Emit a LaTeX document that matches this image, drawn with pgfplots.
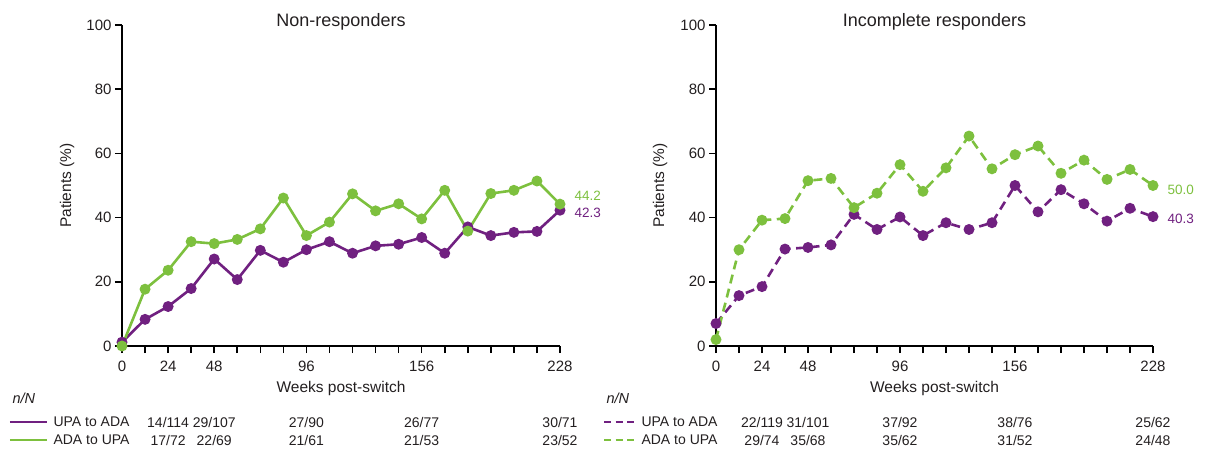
\documentclass[border=0pt]{standalone}
\usepackage{fontspec}
\setmainfont{Liberation Sans}
\usepackage{pgfplots}
\usepackage{pgfplotstable}
\pgfplotsset{compat=1.18}
\definecolor{upa}{RGB}{112,32,128}
\definecolor{ada}{RGB}{125,192,62}
\definecolor{txt}{RGB}{35,31,32}

\tikzset{
  tab/.style={font=\fontsize{14}{16}\selectfont, text=txt},
  endl/.style={font=\fontsize{13.5}{16}\selectfont, anchor=west},
  dsh/.style={dash pattern=on 9pt off 5.5pt},
  ttl/.style={font=\fontsize{18}{21}\selectfont, text=txt, anchor=center},
}
\pgfplotsset{
  panel/.style={
    scale only axis, width=438pt, height=321pt,
    xmin=0, xmax=228, ymin=0, ymax=100,
    axis x line=bottom, axis y line=left,
    axis line style={-, line width=1.8pt, black},
    tick align=outside, major tick length=7pt,
    every tick/.style={black, line width=1.6pt},
    xtick={0,12,...,228},
    xticklabels={0,,24,,48,,,,96,,,,,156,,,,,,228},
    ytick={0,20,...,100},
    /pgf/number format/assume math mode=true,
    tick label style={font=\fontsize{15}{18}\selectfont, text=txt},
    xticklabel style={yshift=-4pt},
    xlabel={Weeks post-switch}, ylabel={Patients (\%)},
    label style={font=\fontsize{15.5}{18}\selectfont, text=txt},
    xlabel style={at={(axis description cs:0.5,-0.131)}, anchor=center},
    clip=false,
  },
  upaS/.style={color=upa, line width=2.6pt, mark=*, mark size=4.1pt, mark options={solid}},
  adaS/.style={color=ada, line width=2.6pt, mark=*, mark size=4.1pt, mark options={solid}},
}

\pgfplotstableread{
wk upa ada
0 1.2 0.0
12 8.3 17.7
24 12.3 23.6
36 17.9 32.5
48 27.1 31.9
60 20.7 33.2
72 29.8 36.5
84 26.1 46.1
96 30.0 34.4
108 32.5 38.6
120 28.9 47.4
132 31.2 42.1
144 31.7 44.3
156 33.8 39.6
168 28.9 48.5
180 37.1 35.8
192 34.4 47.5
204 35.4 48.5
216 35.7 51.4
228 42.3 44.2
}\nonresp

\pgfplotstableread{
wk upa ada
0 7.0 2.0
12 15.7 30.0
24 18.5 39.2
36 30.2 39.7
48 30.7 51.5
60 31.5 52.2
72 41.0 43.1
84 36.3 47.6
96 40.2 56.5
108 34.4 48.2
120 38.4 55.5
132 36.3 65.4
144 38.4 55.2
156 50.0 59.6
168 41.8 62.3
180 48.7 53.8
192 44.3 57.9
204 38.9 51.9
216 42.9 55.0
228 40.3 50.0
}\incresp

\begin{document}
\begin{tikzpicture}
% ---------- Left panel ----------
\begin{axis}[panel, at={(122pt,102pt)}, anchor=south west,
  ylabel style={at={(axis description cs:-0.1256,0.5)}, anchor=center}]
\addplot[upaS] table[x=wk,y=upa] {\nonresp};
\addplot[adaS] table[x=wk,y=ada] {\nonresp};
\node[ttl] at ([yshift=3pt]axis description cs:0.5,1) {Non-responders};
\node[endl, text=ada] at ([xshift=11pt]axis cs:228,46.7) {44.2};
\node[endl, text=upa] at ([xshift=11pt]axis cs:228,41.4) {42.3};
% table
\node[tab, anchor=west, font=\fontsize{14.5}{16}\selectfont\itshape] at ([xshift=-113pt,yshift=-52pt]axis cs:0,0) {n/N};
\draw[upa, line width=2.6pt] ([xshift=-112pt,yshift=-76pt]axis cs:0,0) -- ([xshift=-75pt,yshift=-76pt]axis cs:0,0);
\draw[ada, line width=2.6pt] ([xshift=-112pt,yshift=-94pt]axis cs:0,0) -- ([xshift=-75pt,yshift=-94pt]axis cs:0,0);
\node[tab, anchor=west] at ([xshift=-72pt,yshift=-76pt]axis cs:0,0) {UPA to ADA};
\node[tab, anchor=west] at ([xshift=-72pt,yshift=-94pt]axis cs:0,0) {ADA to UPA};
\node[tab] at ([yshift=-76pt]axis cs:24,0) {14/114};
\node[tab] at ([yshift=-76pt]axis cs:48,0) {29/107};
\node[tab] at ([yshift=-76pt]axis cs:96,0) {27/90};
\node[tab] at ([yshift=-76pt]axis cs:156,0) {26/77};
\node[tab] at ([yshift=-76pt]axis cs:228,0) {30/71};
\node[tab] at ([yshift=-94pt]axis cs:24,0) {17/72};
\node[tab] at ([yshift=-94pt]axis cs:48,0) {22/69};
\node[tab] at ([yshift=-94pt]axis cs:96,0) {21/61};
\node[tab] at ([yshift=-94pt]axis cs:156,0) {21/53};
\node[tab] at ([yshift=-94pt]axis cs:228,0) {23/52};
\end{axis}
% ---------- Right panel ----------
\begin{axis}[panel, at={(716pt,102pt)}, anchor=south west, width=437pt,
  ylabel style={at={(axis description cs:-0.128,0.5)}, anchor=center}]
\addplot[upaS, dsh] table[x=wk,y=upa] {\incresp};
\addplot[adaS, dsh] table[x=wk,y=ada] {\incresp};
\node[ttl] at ([yshift=3pt]axis description cs:0.5,1) {Incomplete responders};
\node[endl, text=ada] at ([xshift=11pt]axis cs:228,48.6) {50.0};
\node[endl, text=upa] at ([xshift=11pt]axis cs:228,39.6) {40.3};
% table
\node[tab, anchor=west, font=\fontsize{14.5}{16}\selectfont\itshape] at ([xshift=-113pt,yshift=-52pt]axis cs:0,0) {n/N};
\draw[upa, line width=2.6pt, dash pattern=on 7pt off 4.5pt] ([xshift=-112pt,yshift=-76pt]axis cs:0,0) -- ([xshift=-80pt,yshift=-76pt]axis cs:0,0);
\draw[ada, line width=2.6pt, dash pattern=on 7pt off 4.5pt] ([xshift=-112pt,yshift=-94pt]axis cs:0,0) -- ([xshift=-80pt,yshift=-94pt]axis cs:0,0);
\node[tab, anchor=west] at ([xshift=-78pt,yshift=-76pt]axis cs:0,0) {UPA to ADA};
\node[tab, anchor=west] at ([xshift=-78pt,yshift=-94pt]axis cs:0,0) {ADA to UPA};
\node[tab] at ([yshift=-76pt]axis cs:24,0) {22/119};
\node[tab] at ([yshift=-76pt]axis cs:48,0) {31/101};
\node[tab] at ([yshift=-76pt]axis cs:96,0) {37/92};
\node[tab] at ([yshift=-76pt]axis cs:156,0) {38/76};
\node[tab] at ([yshift=-76pt]axis cs:228,0) {25/62};
\node[tab] at ([yshift=-94pt]axis cs:24,0) {29/74};
\node[tab] at ([yshift=-94pt]axis cs:48,0) {35/68};
\node[tab] at ([yshift=-94pt]axis cs:96,0) {35/62};
\node[tab] at ([yshift=-94pt]axis cs:156,0) {31/52};
\node[tab] at ([yshift=-94pt]axis cs:228,0) {24/48};
\end{axis}
\pgfresetboundingbox
\useasboundingbox (0,0) rectangle (1205pt,448pt);
\end{tikzpicture}
\end{document}
